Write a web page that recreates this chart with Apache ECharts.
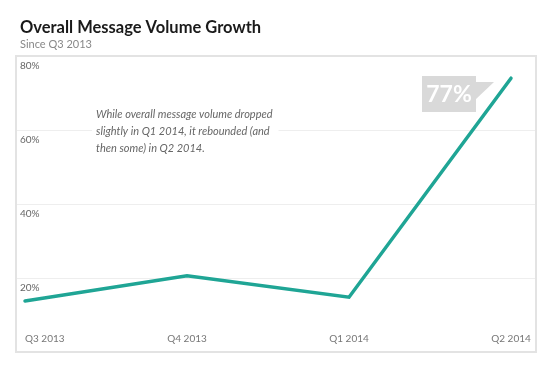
<!DOCTYPE html>
<html>
<head>
<meta charset="utf-8">
<script src="https://cdn.jsdelivr.net/npm/echarts@6/dist/echarts.min.js"></script>
<style>
  html, body { margin: 0; padding: 0; background: #fff; }
  #chart { width: 550px; height: 378px; }
</style>
</head>
<body>
<div id="chart"></div>
<script>
// values
const quarters = ['Q3 2013', 'Q4 2013', 'Q1 2014', 'Q2 2014'];
const growth = [13.8, 20.6, 14.8, 74];
const yTicks = [0, 20, 40, 60, 80];
const calloutText = '77%';
const noteLines = [
    'While overall message volume dropped',
    'slightly in Q1 2014, it rebounded (and',
    'then some) in Q2 2014.'
];

const chart = echarts.init(document.getElementById('chart'));

const font = 'Lato, "Open Sans", sans-serif';
const teal = '#1fa595';

let option = {
    animation: false,
    title: {
        text: 'Overall Message Volume Growth',
        subtext: 'Since Q3 2013',
        left: 15,
        top: 14,
        itemGap: 3,
        textStyle: { fontFamily: font, fontSize: 16.5, fontWeight: 'bold', color: '#1a1a1a' },
        subtextStyle: { fontFamily: font, fontSize: 11, color: '#888' }
    },
    grid: [
        // panel: gridlines and y labels
        { left: 16, right: 14, top: 56, bottom: 26 },
        // line itself
        { left: 25, right: 39, top: 56, bottom: 26 }
    ],
    xAxis: [
        { gridIndex: 0, type: 'category', data: quarters, show: false },
        {
            gridIndex: 1,
            type: 'category',
            data: quarters,
            boundaryGap: false,
            axisLine: { show: false },
            axisTick: { show: false },
            axisLabel: {
                inside: true,
                margin: 8,
                fontFamily: font,
                fontSize: 10,
                color: '#777',
                alignMinLabel: 'left',
                alignMaxLabel: 'center'
            }
        }
    ],
    yAxis: [
        {
            gridIndex: 0,
            type: 'value',
            min: yTicks[0],
            max: yTicks[yTicks.length - 1],
            interval: 20,
            axisLine: { show: false },
            axisTick: { show: false },
            splitLine: { lineStyle: { color: '#eeeeee', width: 1 } },
            axisLabel: {
                inside: true,
                margin: 4,
                showMinLabel: false,
                verticalAlign: 'top',
                padding: [5, 0, 0, 0],
                fontFamily: font,
                fontSize: 10,
                color: '#666',
                formatter: '{value}%'
            }
        },
        {
            gridIndex: 1,
            type: 'value',
            min: yTicks[0],
            max: yTicks[yTicks.length - 1],
            interval: 20,
            show: false
        }
    ],
    series: [
        {
            type: 'line',
            xAxisIndex: 1,
            yAxisIndex: 1,
            data: growth,
            showSymbol: false,
            lineStyle: { color: teal, width: 3.5, cap: 'round', join: 'miter' },
            z: 5
        }
    ],
    graphic: [
        {
            type: 'rect',
            shape: { x: 16, y: 56, width: 520, height: 296 },
            style: { fill: 'none', stroke: '#e3e3e3', lineWidth: 2 },
            z: 10
        },
        {
            type: 'text',
            left: 92,
            top: 106,
            style: {
                text: noteLines.join('\n'),
                fontFamily: font,
                fontStyle: 'italic',
                fontSize: 11,
                lineHeight: 17,
                fill: '#666',
                backgroundColor: '#fff',
                padding: [0, 6, 0, 4]
            },
            z: 3
        },
        {
            type: 'rect',
            shape: { x: 422, y: 76, width: 54, height: 36 },
            style: { fill: '#d9d9d9' },
            z: 6
        },
        {
            type: 'polygon',
            shape: { points: [[475, 82], [494, 82], [475, 100]] },
            style: { fill: '#d9d9d9' },
            z: 6
        },
        {
            type: 'text',
            x: 449,
            y: 95,
            style: {
                text: calloutText,
                fontFamily: font,
                fontWeight: 'bold',
                fontSize: 23,
                fill: '#fff',
                align: 'center',
                verticalAlign: 'middle'
            },
            z: 7
        }
    ]
};

chart.setOption(option);
</script>
</body>
</html>
